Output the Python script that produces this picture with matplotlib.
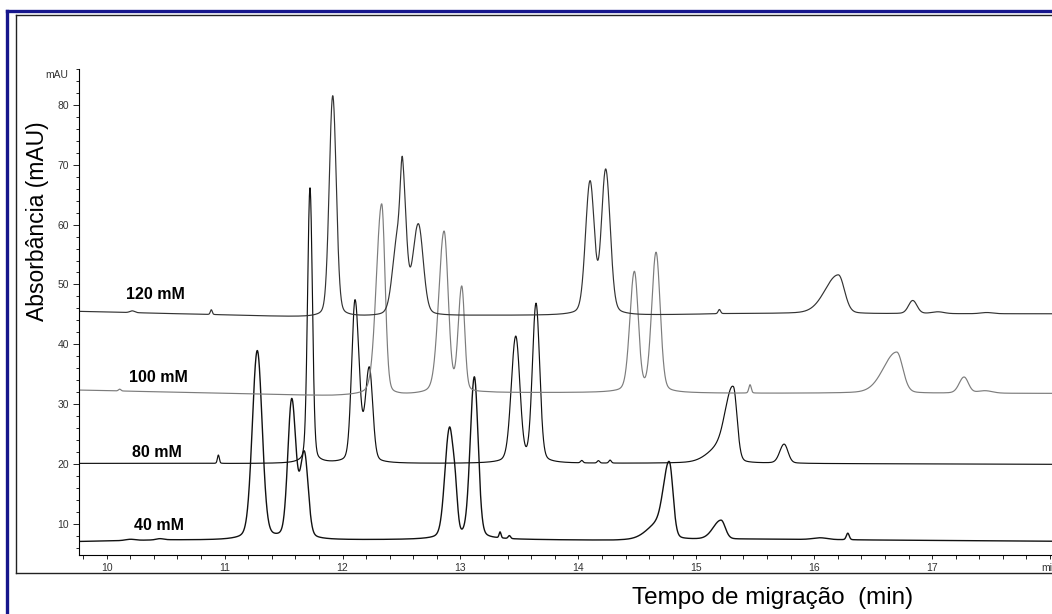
import numpy as np
import matplotlib.pyplot as plt
from matplotlib.lines import Line2D

plt.rcParams['font.family'] = ['Liberation Sans', 'DejaVu Sans']

# traces: baseline anchor points (min, mAU) and peak table
# peak = (retention time, height above baseline, sigma left, sigma right)
labels = ['40 mM', '80 mM', '100 mM', '120 mM']

base_t_40 = [9.77, 10.5, 11.2, 13.3, 14.3, 15.5, 16.5, 18.02]
base_v_40 = [7.05, 7.3, 7.2, 7.4, 7.2, 7.45, 7.3, 7.1]
peaks_40 = [
    (10.20, 0.2, 0.04, 0.04), (10.45, 0.2, 0.03, 0.03),
    (11.277, 31.6, 0.041, 0.040),
    (11.569, 23.0, 0.032, 0.034),
    (11.676, 14.0, 0.034, 0.031),
    (12.906, 18.0, 0.037, 0.030),
    (12.955, 6.0, 0.020, 0.020),
    (13.118, 27.0, 0.034, 0.031),
    (13.336, 1.0, 0.008, 0.008), (13.415, 0.5, 0.010, 0.010),
    (14.69, 2.6, 0.10, 0.05),
    (14.772, 12.3, 0.045, 0.030),
    (15.21, 3.2, 0.065, 0.035),
    (16.05, 0.3, 0.06, 0.06),
    (16.285, 1.1, 0.012, 0.012),
]

base_t_80 = [9.77, 12.0, 15.5, 18.02]
base_v_80 = [20.1, 20.05, 20.1, 19.95]
peaks_80 = [
    (10.947, 1.4, 0.008, 0.008),
    (11.724, 46.0, 0.020, 0.020),
    (12.106, 27.0, 0.028, 0.033),
    (12.227, 15.5, 0.032, 0.028),
    (13.469, 21.0, 0.037, 0.034),
    (13.641, 26.5, 0.030, 0.030),
    (14.029, 0.4, 0.010, 0.010), (14.17, 0.4, 0.010, 0.010), (14.269, 0.5, 0.010, 0.010),
    (15.22, 2.6, 0.11, 0.06),
    (15.315, 12.0, 0.060, 0.030),
    (15.745, 3.2, 0.036, 0.032),
]

base_t_100 = [9.77, 10.1, 11.0, 11.9, 12.5, 13.2, 14.3, 15.3, 18.02]
base_v_100 = [32.35, 32.2, 31.8, 31.35, 31.4, 31.9, 31.9, 31.8, 31.8]
peaks_100 = [
    (10.11, 0.3, 0.01, 0.01),
    (12.332, 32.0, 0.044, 0.028),
    (12.861, 27.0, 0.044, 0.034),
    (13.011, 17.5, 0.029, 0.024),
    (14.475, 20.0, 0.037, 0.032),
    (14.659, 23.3, 0.036, 0.034),
    (15.456, 1.4, 0.010, 0.010),
    (16.70, 6.9, 0.110, 0.050),
    (17.271, 2.7, 0.040, 0.036),
    (17.45, 0.4, 0.06, 0.06),
]

base_t_120 = [9.77, 11.0, 11.8, 12.3, 13.2, 14.5, 15.3, 18.02]
base_v_120 = [45.5, 44.9, 44.45, 44.55, 44.8, 44.8, 45.1, 45.1]
peaks_120 = [
    (10.217, 0.3, 0.02, 0.02),
    (10.887, 0.8, 0.008, 0.008),
    (11.917, 37.0, 0.029, 0.029),
    (12.47, 13.0, 0.042, 0.030),
    (12.51, 20.0, 0.018, 0.030),
    (12.643, 15.0, 0.045, 0.040),
    (14.099, 22.0, 0.037, 0.035),
    (14.232, 24.0, 0.035, 0.037),
    (15.196, 0.7, 0.010, 0.010),
    (16.205, 6.5, 0.110, 0.050),
    (16.836, 2.2, 0.035, 0.035),
    (17.05, 0.3, 0.05, 0.05), (17.464, 0.2, 0.05, 0.05),
]

label_pos = [(10.44, 9.8), (10.43, 21.9), (10.44, 34.5), (10.41, 48.3)]
colors = ['#111111', '#111111', '#7c7c7c', '#333333']
widths = [1.0, 0.85, 0.85, 0.85]

traces = [(base_t_40, base_v_40, peaks_40), (base_t_80, base_v_80, peaks_80),
          (base_t_100, base_v_100, peaks_100), (base_t_120, base_v_120, peaks_120)]


def signal(t, bt, bv, peaks):
    y = np.interp(t, bt, bv)
    for c, h, sl, sr in peaks:
        s = np.where(t < c, sl, sr)
        z = (t - c) / s
        y = y + h * (0.9 * np.exp(-0.5 * z * z) + 0.1 / (1 + (z / 2) ** 2))
    return y


fig = plt.figure(figsize=(10.52, 6.14), dpi=100)
W, H = 1052, 614

# outer frame (blue) and inner panel border
fig.add_artist(Line2D([6.5 / W, 6.5 / W], [0, 1 - 11.2 / H], color='#16168c', lw=2.4))
fig.add_artist(Line2D([6.5 / W, 1.0], [1 - 11.2 / H, 1 - 11.2 / H], color='#16168c', lw=2.4))
fig.add_artist(Line2D([16 / W, 16 / W], [1 - 572.5 / H, 1 - 14.8 / H], color='#222222', lw=1.0))
fig.add_artist(Line2D([16 / W, 1.0], [1 - 14.8 / H, 1 - 14.8 / H], color='#222222', lw=1.0))
fig.add_artist(Line2D([16 / W, 1.0], [1 - 572.5 / H, 1 - 572.5 / H], color='#222222', lw=1.0))

ax = fig.add_axes([79 / W, (H - 555) / H, (W - 79) / W, (555 - 69) / H])
t = np.linspace(9.765, 18.03, 8000)
for (bt, bv, pk), lab, lp, col, lw in zip(traces, labels, label_pos, colors, widths):
    ax.plot(t, signal(t, bt, bv, pk), color=col, lw=lw)
    ax.text(lp[0], lp[1], lab, ha='center', va='center', fontsize=11.5, fontweight='bold')

ax.set_xlim(9.765, 18.017)
ax.set_ylim(4.8, 86.0)
for s in ['top', 'right']:
    ax.spines[s].set_visible(False)
ax.spines['left'].set_linewidth(0.8)
ax.spines['bottom'].set_linewidth(0.8)

ax.set_yticks(np.arange(10, 81, 10))
ax.set_yticks(np.arange(6, 87, 2), minor=True)
ax.set_xticks(np.arange(10, 19, 1))
ax.set_xticklabels(['10', '11', '12', '13', '14', '15', '16', '17', 'min'])
ax.set_xticks(np.arange(9.8, 18.02, 0.2), minor=True)
ax.tick_params(axis='y', which='major', length=4.3, width=0.6, pad=3, labelsize=7.5, labelcolor='#333333')
ax.tick_params(axis='y', which='minor', length=2.2, width=0.6)
ax.tick_params(axis='x', which='major', length=3.0, width=0.6, pad=2.5, labelsize=7.5, labelcolor='#333333')
ax.tick_params(axis='x', which='minor', length=3.0, width=0.6)
ax.text(-0.0113, 85.0, 'mAU', transform=ax.get_yaxis_transform(), ha='right', va='center',
        fontsize=7.5, color='#333333')

fig.text(37.5 / W, 1 - 221 / H, 'Absorbância (mAU)', rotation=90, ha='center', va='center', fontsize=16.5)
fig.text(773 / W, 1 - 598 / H, 'Tempo de migração  (min)', ha='center', va='center', fontsize=17.5)

fig.savefig('out.png', dpi=100)
